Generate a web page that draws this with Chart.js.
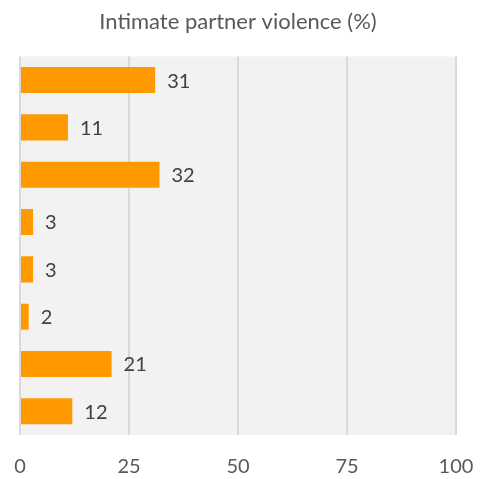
<!DOCTYPE html>
<html>
<head>
<meta charset="utf-8">
<script src="https://cdn.jsdelivr.net/npm/chart.js@4/dist/chart.umd.min.js"></script>
<style>
  html, body { margin: 0; padding: 0; background: #ffffff; }
  #wrap { width: 485px; height: 479px; position: relative; }
</style>
</head>
<body>
<div id="wrap"><canvas id="chart"></canvas></div>
<script>
// data
const categories = ['Group 1', 'Group 2', 'Group 3', 'Group 4', 'Group 5', 'Group 6', 'Group 7', 'Group 8'];
const violenceValues = [31, 11, 32, 3, 3, 2, 21, 12];
const xTicks = [0, 25, 50, 75, 100];

const fontFamily = 'Lato, "Open Sans", sans-serif';

// grey plot area behind the bars
const plotBackground = {
    id: 'plotBackground',
    beforeDraw(chart) {
        const { ctx, chartArea: a } = chart;
        ctx.save();
        ctx.fillStyle = '#f2f2f2';
        ctx.fillRect(a.left, a.top, a.right - a.left, a.bottom - a.top);
        ctx.restore();
    }
};

// value labels right of each bar
const barLabels = {
    id: 'barLabels',
    afterDatasetsDraw(chart) {
        const { ctx } = chart;
        const meta = chart.getDatasetMeta(0);
        ctx.save();
        ctx.fillStyle = '#404040';
        ctx.font = '20px ' + fontFamily;
        ctx.textAlign = 'left';
        ctx.textBaseline = 'middle';
        meta.data.forEach((bar, i) => {
            ctx.fillText(String(violenceValues[i]), bar.x + 12, bar.y + 1);
        });
        ctx.restore();
    }
};

new Chart(document.getElementById('chart'), {
    type: 'bar',
    data: {
        labels: categories,
        datasets: [{
            data: violenceValues,
            backgroundColor: '#ff9900',
            borderWidth: 0,
            categoryPercentage: 0.55,
            barPercentage: 1.0
        }]
    },
    options: {
        indexAxis: 'y',
        responsive: true,
        maintainAspectRatio: false,
        animation: false,
        layout: { padding: { left: 20, right: 29, top: 0, bottom: 0 } },
        plugins: {
            legend: { display: false },
            tooltip: { enabled: false },
            title: {
                display: true,
                text: 'Intimate partner violence (%)',
                color: '#595959',
                font: { family: fontFamily, size: 22, weight: 'normal' },
                padding: { top: 9, bottom: 21 }
            }
        },
        scales: {
            x: {
                min: 0,
                max: 100,
                afterBuildTicks(axis) {
                    axis.ticks = xTicks.map(v => ({ value: v }));
                },
                afterFit(axis) {
                    axis.paddingLeft = 0;
                    axis.paddingRight = 0;
                    axis.height = 44;
                },
                grid: {
                    color: '#d9d9d9',
                    lineWidth: 2,
                    drawTicks: false
                },
                border: { display: false },
                ticks: {
                    color: '#595959',
                    padding: 20,
                    font: { family: fontFamily, size: 20 }
                }
            },
            y: {
                display: false
            }
        }
    },
    plugins: [plotBackground, barLabels]
});
</script>
</body>
</html>
